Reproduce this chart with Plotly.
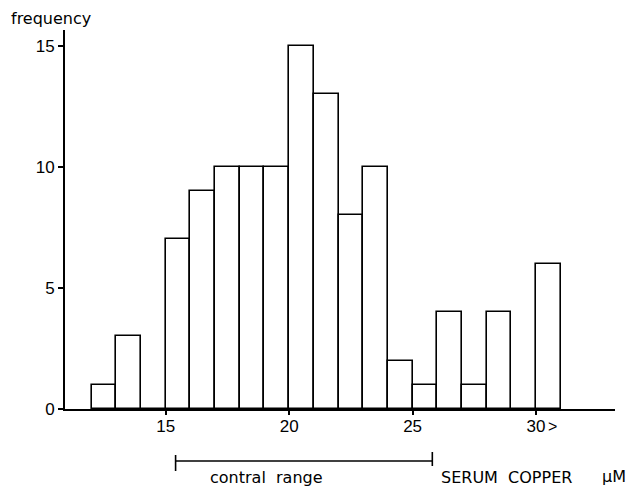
import plotly.graph_objects as go

# ---- data ----
bin_starts = [12, 13, 14, 15, 16, 17, 18, 19, 20, 21, 22, 23, 24, 25, 26, 27, 28, 29, 30]
counts = [1, 3, 0, 7, 9, 10, 10, 10, 15, 13, 8, 10, 2, 1, 4, 1, 4, 0, 6]
bin_width = 1
x_tick_vals = [15, 20, 25, 30]
x_tick_text = ["15", "20", "25", "30"]
y_tick_vals = [0, 5, 10, 15]
control_range = [15.4, 25.8]

FONT = "Liberation Sans, Arial, sans-serif"
LFONT = "DejaVu Sans, sans-serif"

fig = go.Figure()
fig.add_trace(go.Bar(
    x=bin_starts, y=counts, width=bin_width, offset=0,
    marker=dict(color="white", line=dict(color="black", width=1.6)),
    showlegend=False,
))

# plot area in pixels: left 65, right 615, top 30, bottom 409
W, H = 629, 486
L, R, T, B = 65, 14, 30, 77
ph = H - T - B
pw = W - L - R

def py(pix):
    """pixel y (from top) -> paper y"""
    return (H - B - pix) / ph

def px(pix):
    """pixel x (from left) -> paper x"""
    return (pix - L) / pw

fig.update_layout(
    width=W, height=H,
    margin=dict(l=L, r=R, t=T, b=B),
    plot_bgcolor="white", paper_bgcolor="white",
    bargap=0,
    font=dict(family=FONT, size=17, color="black"),
    xaxis=dict(
        range=[10.92, 33.2], showgrid=False, zeroline=False,
        showline=True, linecolor="black", linewidth=2,
        ticks="outside", ticklen=4, tickwidth=2, tickcolor="black",
        tickvals=x_tick_vals, ticktext=x_tick_text,
        ticklabelstandoff=-3,
        tickfont=dict(family=FONT, size=17, color="black"),
    ),
    yaxis=dict(
        range=[0, 15.65], showgrid=False, zeroline=False,
        showline=True, linecolor="black", linewidth=2,
        ticks="outside", ticklen=5, tickwidth=2, tickcolor="black",
        tickvals=y_tick_vals,
        tickfont=dict(family=FONT, size=17, color="black"),
    ),
)

# ">" next to 30
fig.add_annotation(x=x_tick_vals[-1], y=py(426), xref="x", yref="paper",
                   text=">", showarrow=False, xanchor="left", yanchor="middle",
                   xshift=10, font=dict(family=FONT, size=16, color="black"))

# control range bracket
ybar = py(461)
fig.add_shape(type="line", xref="x", yref="paper",
              x0=control_range[0], x1=control_range[1], y0=ybar, y1=ybar,
              line=dict(color="black", width=1.6))
fig.add_shape(type="line", xref="x", yref="paper",
              x0=control_range[0], x1=control_range[0], y0=py(455), y1=py(471),
              line=dict(color="black", width=1.6))
fig.add_shape(type="line", xref="x", yref="paper",
              x0=control_range[1], x1=control_range[1], y0=py(452), y1=py(466),
              line=dict(color="black", width=1.6))

fig.add_annotation(x=(control_range[0] + control_range[1]) / 2 - 1.5, y=py(477),
                   xref="x", yref="paper",
                   text="contral\u00a0\u00a0range", showarrow=False,
                   xanchor="center", yanchor="middle",
                   font=dict(family=LFONT, size=16, color="black"))
fig.add_annotation(x=px(439), y=py(477), xref="paper", yref="paper",
                   text="SERUM\u00a0\u00a0COPPER", showarrow=False,
                   xanchor="left", yanchor="middle",
                   font=dict(family=LFONT, size=16, color="black"))
fig.add_annotation(x=px(628), y=py(476), xref="paper", yref="paper",
                   text="\u03bcM", showarrow=False,
                   xanchor="right", yanchor="middle",
                   font=dict(family=LFONT, size=16, color="black"))

fig.add_annotation(x=px(9), y=py(19), xref="paper", yref="paper",
                   text="frequency", showarrow=False,
                   xanchor="left", yanchor="middle",
                   font=dict(family=LFONT, size=16, color="black"))

fig.write_html("out.html",
               config={"displayModeBar": False},
               post_script="document.body.style.margin='0';document.body.style.overflow='hidden';")
